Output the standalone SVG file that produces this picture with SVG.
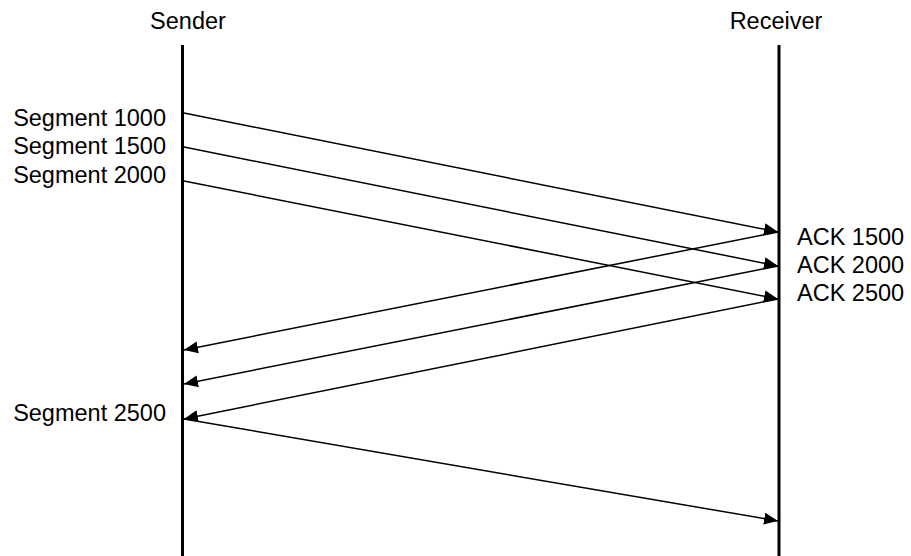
<svg xmlns="http://www.w3.org/2000/svg" width="911" height="556" viewBox="0 0 911 556">
  <style>
    .lbl { font-family: "Liberation Sans", Arial, sans-serif; font-size: 23.5px; fill: #000; }
    .life { stroke: #000; stroke-width: 3; }
    .msg { stroke: #000; stroke-width: 1.5; fill: none; marker-end: url(#arrow); }
  </style>
  <defs>
    <marker id="arrow" markerUnits="userSpaceOnUse" markerWidth="14" markerHeight="12" refX="14" refY="6" orient="auto">
      <path d="M0,0 L14,6 L0,12 Z" fill="#000"/>
    </marker>
  </defs>
  <rect width="911" height="556" fill="#fff"/>
  <g id="sender">
    <text class="lbl" x="188" y="29" text-anchor="middle">Sender</text>
    <line class="life" x1="182.5" y1="45" x2="182.5" y2="556"/>
  </g>
  <g id="receiver">
    <text class="lbl" x="776" y="29" text-anchor="middle">Receiver</text>
    <line class="life" x1="779" y1="45" x2="779" y2="556"/>
  </g>
  <g id="labels">
    <text class="lbl" x="166" y="126" text-anchor="end">Segment 1000</text>
    <text class="lbl" x="166" y="154" text-anchor="end">Segment 1500</text>
    <text class="lbl" x="166" y="182.5" text-anchor="end">Segment 2000</text>
    <text class="lbl" x="166" y="421" text-anchor="end">Segment 2500</text>
    <text class="lbl" x="797" y="244.5">ACK 1500</text>
    <text class="lbl" x="797" y="272.5">ACK 2000</text>
    <text class="lbl" x="797" y="301">ACK 2500</text>
  </g>
  <g id="connectors">
    <line class="msg" x1="184" y1="113" x2="778" y2="232"/>
    <line class="msg" x1="184" y1="147" x2="778" y2="266"/>
    <line class="msg" x1="184" y1="181" x2="778" y2="299"/>
    <line class="msg" x1="778" y1="232" x2="184" y2="350"/>
    <line class="msg" x1="778" y1="266" x2="184" y2="384"/>
    <line class="msg" x1="778" y1="299" x2="184" y2="419"/>
    <line class="msg" x1="184" y1="419" x2="778" y2="521"/>
  </g>
</svg>
